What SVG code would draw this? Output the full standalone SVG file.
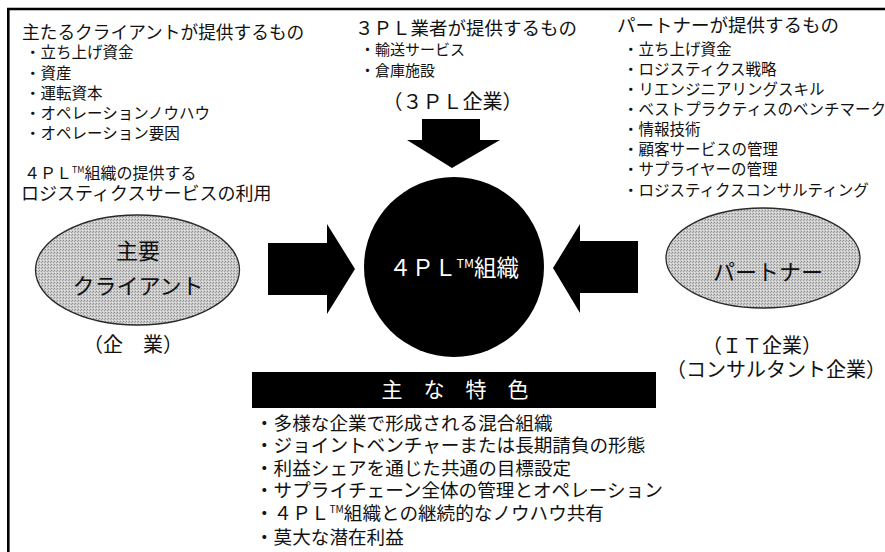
<svg xmlns="http://www.w3.org/2000/svg" width="885" height="552" viewBox="0 0 885 552">
<defs>
  <pattern id="stipple" width="3" height="3" patternUnits="userSpaceOnUse">
    <rect width="3" height="3" fill="#cdcdcd"/>
    <rect x="0" y="0" width="1" height="1" fill="#8a8a8a"/>
    <rect x="2" y="1" width="1" height="1" fill="#a0a0a0"/>
    <rect x="1" y="2" width="1" height="1" fill="#e6e6e6"/>
  </pattern>
</defs>
<style>
  text { font-family: "Noto Sans CJK JP", "Noto Sans", sans-serif; fill: #111; }
  .hd { font-size: 17.7px; }
  .hd2 { font-size: 18.5px; }
  .it { font-size: 15.5px; }
  .it2 { font-size: 15px; }
  .lbl { font-size: 20px; text-anchor: middle; }
  .big { font-size: 22px; text-anchor: middle; }
  .bl { font-size: 18.6px; }
  .wh { fill: #fff; }
  .ell { fill: url(#stipple); stroke: #2a2a2a; stroke-width: 1.3; }
  .arrow { fill: #000; }
  .tm { font-size: 0.55em; }
</style>
<g id="frame">
  <line x1="7" y1="9" x2="885" y2="9" stroke="#000" stroke-width="2.6"/>
  <line x1="8.3" y1="8" x2="8.3" y2="552" stroke="#000" stroke-width="2.6"/>
</g>
<g id="client-provides">
  <text class="hd" x="22" y="39">主たるクライアントが提供するもの</text>
  <text class="it" x="25" y="58">・立ち上げ資金</text>
  <text class="it" x="25" y="79">・資産</text>
  <text class="it" x="25" y="99">・運転資本</text>
  <text class="it" x="25" y="119">・オペレーションノウハウ</text>
  <text class="it" x="25" y="139">・オペレーション要因</text>
  <text x="24" y="179" style="font-size:16px">４ＰＬ<tspan class="tm" dy="-6">TM</tspan><tspan dy="6">組織の提供する</tspan></text>
  <text x="21" y="200" style="font-size:18px">ロジスティクスサービスの利用</text>
</g>
<g id="tpl-provides">
  <text class="hd2" x="355" y="35">３ＰＬ業者が提供するもの</text>
  <text class="it2" x="360" y="55">・輸送サービス</text>
  <text class="it2" x="360" y="76">・倉庫施設</text>
  <text class="lbl" x="452.5" y="109">（３ＰＬ企業）</text>
</g>
<g id="partner-provides">
  <text class="hd2" x="617" y="32">パートナーが提供するもの</text>
  <text class="it" x="623" y="55">・立ち上げ資金</text>
  <text class="it" x="623" y="75">・ロジスティクス戦略</text>
  <text class="it" x="623" y="95">・リエンジニアリングスキル</text>
  <text class="it" x="623" y="115">・ベストプラクティスのベンチマーク</text>
  <text class="it" x="623" y="135">・情報技術</text>
  <text class="it" x="623" y="155">・顧客サービスの管理</text>
  <text class="it" x="623" y="175">・サプライヤーの管理</text>
  <text class="it" x="623" y="196">・ロジスティクスコンサルティング</text>
</g>
<g id="connectors">
  <polygon class="arrow" points="268,243 327,243 327,224 355,269 327,314 327,295 268,295"/>
  <polygon class="arrow" points="638,241 580,241 580,224 553,268 580,313 580,293 638,293"/>
  <polygon class="arrow" points="422,119 480,119 480,140 500,140 452,168 407,140 422,140"/>
</g>
<g id="main-client">
  <ellipse class="ell" cx="137.5" cy="270" rx="102" ry="55"/>
  <text class="big" x="138" y="259">主要</text>
  <text class="big" x="138" y="294">クライアント</text>
  <text class="lbl" x="133" y="352">（企　業）</text>
</g>
<g id="fourpl">
  <circle cx="454" cy="267" r="90" fill="#000"/>
  <text class="wh" x="389" y="276" style="font-size:22.5px">４ＰＬ<tspan class="tm wh" dy="-8">TM</tspan><tspan class="wh" dy="8">組織</tspan></text>
</g>
<g id="partner">
  <ellipse class="ell" cx="763" cy="258" rx="97" ry="50"/>
  <text class="big" x="768" y="280">パートナー</text>
  <text class="lbl" x="762" y="353">（ＩＴ企業）</text>
  <text class="lbl" x="776" y="377">（コンサルタント企業）</text>
</g>
<g id="features">
  <rect x="252" y="372" width="404" height="36" fill="#000"/>
  <text class="wh" x="455" y="397" text-anchor="middle" style="font-size:21px">主　な　特　色</text>
  <text class="bl" x="255" y="430">・多様な企業で形成される混合組織</text>
  <text class="bl" x="255" y="452">・ジョイントベンチャーまたは長期請負の形態</text>
  <text class="bl" x="255" y="475">・利益シェアを通じた共通の目標設定</text>
  <text class="bl" x="255" y="497">・サプライチェーン全体の管理とオペレーション</text>
  <text class="bl" x="255" y="520">・４ＰＬ<tspan class="tm" dy="-7">TM</tspan><tspan dy="7">組織との継続的なノウハウ共有</tspan></text>
  <text class="bl" x="255" y="544">・莫大な潜在利益</text>
</g>
</svg>
